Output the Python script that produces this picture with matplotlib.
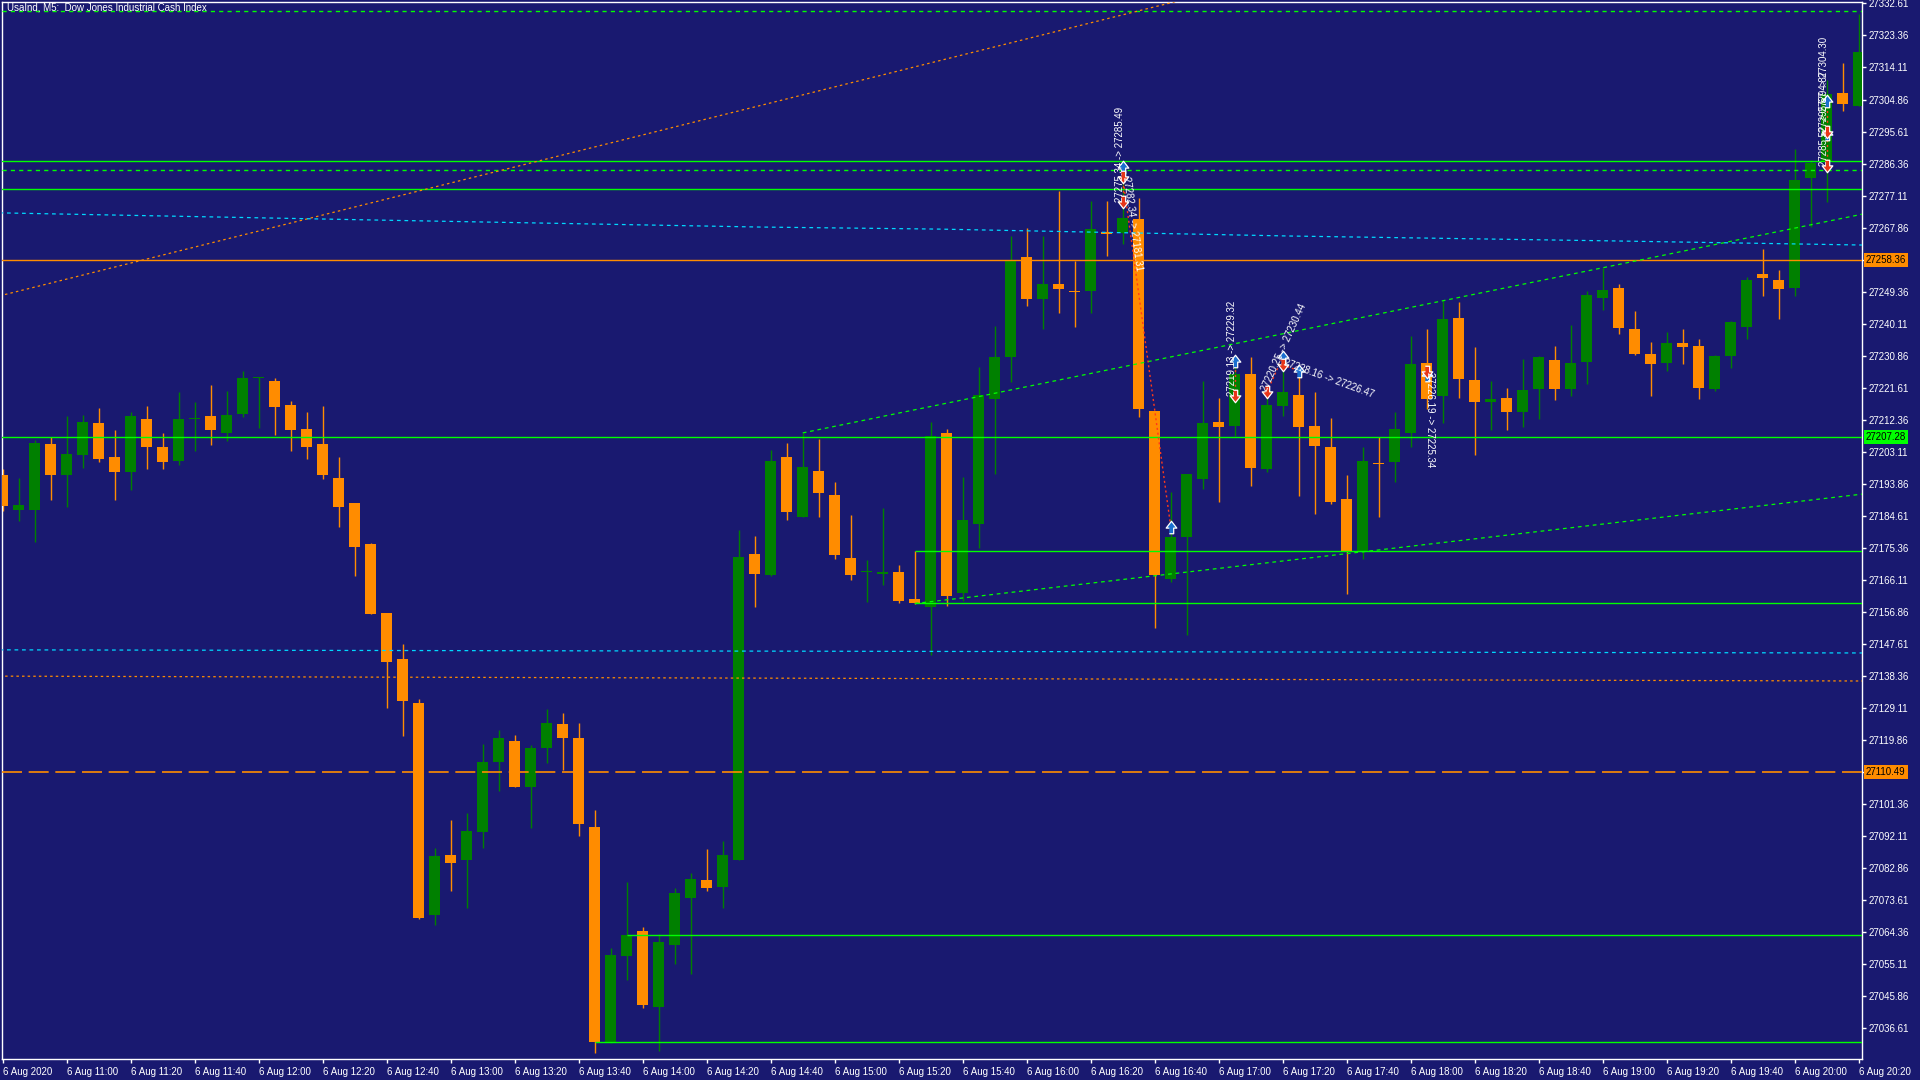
import numpy as np
import matplotlib
matplotlib.use('Agg')
import matplotlib.pyplot as plt

plt.rcParams['font.family'] = ['Liberation Sans', 'DejaVu Sans']

# UsaInd M5, 6 Aug 2020 10:40 -> 20:20 (one candle per 5 minutes)
opens = [27196.4, 27186.3, 27186.3, 27205.3, 27196.2, 27202.1, 27211.4, 27201.6, 27197.3, 27212.5,
         27204.5, 27200.5, 27212.4, 27213.4, 27208.6, 27214.1, 27224.3, 27223.5, 27216.6, 27209.7,
         27205.3, 27195.5, 27188.3, 27176.4, 27156.5, 27143.2, 27130.5, 27069.3, 27086.6, 27085.2,
         27093.3, 27113.5, 27119.5, 27106.3, 27117.3, 27124.4, 27120.4, 27094.6, 27032.4, 27057.2,
         27064.6, 27042.5, 27060.4, 27074.2, 27079.3, 27077.4, 27085.2, 27173.5, 27167.3, 27201.5,
         27184.2, 27197.5, 27190.6, 27172.4, 27168.3, 27167.6, 27168.3, 27160.5, 27158.3, 27208.5,
         27162.3, 27182.3, 27218.4, 27230.3, 27259.4, 27247.3, 27251.6, 27249.4, 27249.4, 27266.6,
         27266.4, 27270.3, 27214.9, 27166.4, 27178.3, 27195.3, 27211.7, 27210.6, 27225.6, 27198.2,
         27216.4, 27219.5, 27210.5, 27204.5, 27189.4, 27174.5, 27199.6, 27200.2, 27208.6, 27228.7,
         27219.3, 27241.7, 27223.8, 27217.3, 27218.6, 27214.4, 27221.3, 27229.6, 27221.3, 27229.1,
         27247.6, 27250.4, 27238.6, 27231.3, 27228.6, 27234.5, 27233.7, 27221.3, 27230.6, 27239.2,
         27254.5, 27252.7, 27250.5, 27282.3, 27286.8, 27306.8, 27303.1]
highs = [27198.0, 27195.5, 27206.5, 27207.4, 27213.4, 27213.7, 27215.7, 27209.4, 27214.6, 27216.3,
         27208.5, 27220.3, 27217.5, 27222.4, 27220.6, 27226.4, 27224.7, 27224.4, 27217.7, 27214.6,
         27216.3, 27201.6, 27188.3, 27176.6, 27156.5, 27147.5, 27131.6, 27088.6, 27096.7, 27098.7,
         27118.6, 27122.7, 27121.2, 27118.3, 27128.7, 27127.6, 27124.7, 27099.5, 27059.7, 27078.7,
         27065.8, 27063.7, 27077.0, 27081.4, 27088.3, 27090.6, 27180.4, 27178.7, 27203.6, 27205.6,
         27208.5, 27206.7, 27194.3, 27184.8, 27171.8, 27186.8, 27170.3, 27174.4, 27211.7, 27209.6,
         27195.8, 27227.6, 27239.4, 27265.4, 27267.7, 27265.4, 27278.4, 27258.2, 27275.5, 27275.5,
         27286.5, 27276.4, 27214.9, 27191.5, 27196.7, 27223.5, 27218.6, 27228.7, 27230.5, 27222.1,
         27229.3, 27224.8, 27220.3, 27212.8, 27196.4, 27204.5, 27207.3, 27214.6, 27236.5, 27238.6,
         27246.6, 27246.3, 27233.4, 27223.5, 27221.5, 27229.9, 27230.8, 27233.6, 27239.7, 27249.5,
         27256.2, 27251.6, 27243.8, 27234.8, 27237.7, 27238.6, 27235.7, 27230.9, 27240.7, 27253.6,
         27261.7, 27255.6, 27290.6, 27287.4, 27310.5, 27315.4, 27329.5]
lows = [27186.0, 27183.1, 27177.1, 27189.1, 27187.2, 27198.5, 27200.2, 27189.1, 27192.1, 27198.2,
        27198.2, 27199.1, 27203.4, 27205.1, 27206.3, 27213.2, 27210.0, 27208.0, 27203.4, 27201.1,
        27195.3, 27181.4, 27167.2, 27156.2, 27129.1, 27121.0, 27068.1, 27066.4, 27076.2, 27071.3,
        27088.4, 27105.1, 27106.3, 27094.2, 27113.2, 27111.2, 27092.1, 27029.2, 27032.2, 27050.5,
        27042.2, 27030.0, 27055.0, 27052.0, 27076.2, 27071.1, 27085.0, 27158.3, 27167.2, 27183.4,
        27184.1, 27184.3, 27172.2, 27166.1, 27159.5, 27164.4, 27159.2, 27159.0, 27144.4, 27158.6,
        27160.0, 27175.1, 27196.5, 27223.3, 27245.3, 27238.4, 27243.3, 27239.2, 27243.3, 27259.5,
        27263.2, 27213.2, 27152.0, 27165.3, 27150.0, 27192.4, 27188.4, 27207.7, 27193.3, 27197.3,
        27213.5, 27190.4, 27185.2, 27188.0, 27162.0, 27172.0, 27184.3, 27194.2, 27204.3, 27215.5,
        27211.5, 27218.7, 27202.2, 27209.2, 27209.2, 27210.3, 27212.4, 27218.1, 27219.3, 27222.5,
        27244.1, 27237.2, 27231.1, 27219.3, 27226.5, 27228.3, 27218.2, 27220.5, 27227.4, 27235.5,
        27248.2, 27241.3, 27248.2, 27268.1, 27275.3, 27301.4, 27303.1]
closes = [27187.5, 27187.7, 27205.6, 27196.4, 27202.4, 27211.7, 27201.1, 27197.3, 27213.4, 27204.3,
          27200.2, 27212.5, 27212.5, 27209.2, 27213.7, 27224.4, 27224.4, 27216.1, 27209.2, 27204.3,
          27196.2, 27187.2, 27175.4, 27156.3, 27142.4, 27131.1, 27068.4, 27086.3, 27084.3, 27093.5,
          27113.4, 27120.4, 27106.3, 27117.5, 27124.7, 27120.4, 27095.6, 27032.4, 27057.7, 27063.4,
          27043.3, 27061.4, 27075.6, 27079.6, 27077.1, 27086.6, 27172.7, 27167.6, 27200.4, 27185.5,
          27198.7, 27191.2, 27173.3, 27167.5, 27168.4, 27168.3, 27160.0, 27159.2, 27207.6, 27161.5,
          27183.3, 27219.5, 27230.5, 27258.3, 27247.3, 27251.6, 27250.2, 27249.3, 27267.5, 27266.1,
          27270.6, 27215.5, 27167.3, 27178.5, 27196.7, 27211.4, 27210.3, 27225.6, 27198.5, 27216.6,
          27220.4, 27210.3, 27204.6, 27188.4, 27174.4, 27200.4, 27199.5, 27209.6, 27228.4, 27218.4,
          27241.4, 27224.2, 27217.3, 27218.3, 27214.4, 27220.9, 27230.5, 27221.3, 27228.7, 27248.4,
          27249.8, 27238.7, 27231.4, 27228.3, 27234.5, 27233.2, 27221.6, 27230.8, 27240.6, 27252.7,
          27253.4, 27250.2, 27281.6, 27286.5, 27306.5, 27303.7, 27318.6]

x_tick_labels = ['6 Aug 2020', '6 Aug 11:00', '6 Aug 11:20', '6 Aug 11:40', '6 Aug 12:00',
                 '6 Aug 12:20', '6 Aug 12:40', '6 Aug 13:00', '6 Aug 13:20', '6 Aug 13:40',
                 '6 Aug 14:00', '6 Aug 14:20', '6 Aug 14:40', '6 Aug 15:00', '6 Aug 15:20',
                 '6 Aug 15:40', '6 Aug 16:00', '6 Aug 16:20', '6 Aug 16:40', '6 Aug 17:00',
                 '6 Aug 17:20', '6 Aug 17:40', '6 Aug 18:00', '6 Aug 18:20', '6 Aug 18:40',
                 '6 Aug 19:00', '6 Aug 19:20', '6 Aug 19:40', '6 Aug 20:00', '6 Aug 20:20']
price_ticks = [27332.61 - 9.25 * k for k in range(33)]

# horizontal levels
green_full = [27287.2, 27278.9, 27207.28]
green_dashed = [27330.4, 27284.4]
green_partial = [27174.3, 27159.3, 27063.3, 27032.4]
green_partial_start = [57, 57, 39, 37]
orange_level = 27258.36
orange_long_dash = 27110.49

# trend lines / indicator lines (candle index, price)
trend_up_x, trend_up_y = [50, 116.2], [27208.5, 27271.7]
trend_lo_x, trend_lo_y = [57, 116.2], [27159.2, 27190.8]
trend_or_x, trend_or_y = [-0.2, 116.2], [27248.1, 27382.8]
cyan_hi_x = [-0.2, 23.6, 47.3, 58.6, 80.5, 100.5, 116.2]
cyan_hi_y = [27272.1, 27270.0, 27268.0, 27267.4, 27265.4, 27264.0, 27262.8]
cyan_lo_x, cyan_lo_y = [-0.2, 116.2], [27145.8, 27144.9]
orange_fine_x, orange_fine_y = [-0.2, 116.2], [27138.2, 27136.8]

# trades: sell at open, buy to close
trade_open_i = [70, 70, 77, 79, 80, 89, 114, 114]
trade_open_p = [27275.34, 27282.34, 27219.13, 27220.25, 27228.16, 27226.19, 27285.52, 27295.57]
trade_close_i = [70, 73, 77, 80, 81, 89, 114, 114]
trade_close_p = [27285.49, 27181.31, 27229.32, 27230.44, 27226.47, 27225.34, 27294.87, 27304.30]

BG = '#191970'
UP = '#008000'
DOWN = '#FF8C00'
LIME = '#00FF00'
CYAN = '#00D8FF'

fig = plt.figure(figsize=(19.2, 10.8), dpi=100, facecolor=BG)
ax = fig.add_axes([2 / 1920, 21 / 1080, 1860 / 1920, 1057 / 1080], facecolor=BG)
ax.set_xlim(-0.044, 116.2)
ax.set_ylim(27027.55, 27333.04)

o = np.array(opens)
h = np.array(highs)
l = np.array(lows)
c = np.array(closes)
idx = np.arange(len(o))
cols = np.where(c >= o, UP, DOWN)

ax.vlines(idx, l, h, colors=cols, lw=1.0, zorder=2)
ax.bar(idx, np.maximum(np.abs(c - o), 0.3), bottom=np.minimum(o, c), width=0.69,
       color=cols, lw=0, zorder=3)

# levels
for p in green_full:
    ax.axhline(p, color=LIME, lw=1.0, zorder=4)
for p in green_dashed:
    ax.axhline(p, color=LIME, lw=1.0, ls=(0, (3, 3)), zorder=4)
for p, s in zip(green_partial, green_partial_start):
    ax.hlines(p, s, 116.2, color=LIME, lw=1.0, zorder=4)
ax.axhline(orange_level, color=DOWN, lw=1.0, zorder=4)
ax.axhline(orange_long_dash, color=DOWN, lw=1.2, ls=(0, (12, 4)), zorder=4)

ax.plot(trend_up_x, trend_up_y, color=LIME, lw=0.9, ls=(0, (3, 3)), zorder=4)
ax.plot(trend_lo_x, trend_lo_y, color=LIME, lw=0.9, ls=(0, (3, 3)), zorder=4)
ax.plot(trend_or_x, trend_or_y, color=DOWN, lw=0.9, ls=(0, (2, 2.5)), zorder=4)
ax.plot(cyan_hi_x, cyan_hi_y, color=CYAN, lw=0.9, ls=(0, (3, 3)), zorder=4)
ax.plot(cyan_lo_x, cyan_lo_y, color=CYAN, lw=0.9, ls=(0, (3, 3)), zorder=4)
ax.plot(orange_fine_x, orange_fine_y, color=DOWN, lw=0.9, ls=(0, (2, 2.5)), zorder=4)

# trade arrows
down_arrow = [(-0.35, 1), (0.35, 1), (0.35, 0.1), (0.85, 0.1), (0, -1), (-0.85, 0.1), (-0.35, 0.1)]
up_arrow = [(x, -y) for x, y in down_arrow]
for oi, op, ci, cp in zip(trade_open_i, trade_open_p, trade_close_i, trade_close_p):
    ax.plot([oi, ci], [op, cp], color='#FF3A1A', lw=1.0, ls=(0, (1.5, 2)), zorder=5)
for ci, cp in zip(trade_close_i, trade_close_p):
    ax.plot(ci, cp, marker=up_arrow, ms=9, mfc='#1A6FD0', mec='white', mew=0.9, zorder=6)
for oi, op in zip(trade_open_i, trade_open_p):
    ax.plot(oi, op, marker=down_arrow, ms=9, mfc='#E8361A', mec='white', mew=0.9, zorder=6)

for oi, op, ci, cp in zip(trade_open_i, trade_open_p, trade_close_i, trade_close_p):
    p1 = ax.transData.transform((oi, op))
    p2 = ax.transData.transform((ci, cp))
    ang = np.degrees(np.arctan2(p2[1] - p1[1], p2[0] - p1[0]))
    ax.text(oi, op, f'{op:.2f} -> {cp:.2f}', color='white', fontsize=7, rotation=ang,
            rotation_mode='anchor', ha='left', va='baseline', zorder=7)

# axes styling
for sp in ax.spines.values():
    sp.set_color('white')
    sp.set_linewidth(1.0)
ax.yaxis.tick_right()
ax.set_yticks(price_ticks)
ax.set_yticklabels([f'{p:.2f}' for p in price_ticks])
ax.set_xticks(np.arange(0, 117, 4))
ax.set_xticklabels(x_tick_labels)
ax.tick_params(axis='y', colors='white', labelsize=7, length=3, width=1, pad=2)
ax.tick_params(axis='x', colors='white', labelsize=7, length=3, width=1, pad=3)
for t in ax.get_xticklabels():
    t.set_ha('left')

# price boxes on the scale
for p, fc in [(orange_level, DOWN), (27207.28, LIME), (orange_long_dash, DOWN)]:
    ax.text(1.0 + 4 / 1860, p, f'{p:.2f}', transform=ax.get_yaxis_transform(), color='black',
            fontsize=7, ha='left', va='center', clip_on=False, zorder=10,
            bbox=dict(boxstyle='square,pad=0.2', fc=fc, ec='none'))

fig.text(7 / 1920, 1 - 8 / 1080, 'UsaInd, M5:  Dow Jones Industrial Cash Index', color='white',
         fontsize=7, ha='left', va='center')

fig.savefig('out.png', dpi=100, facecolor=BG)
